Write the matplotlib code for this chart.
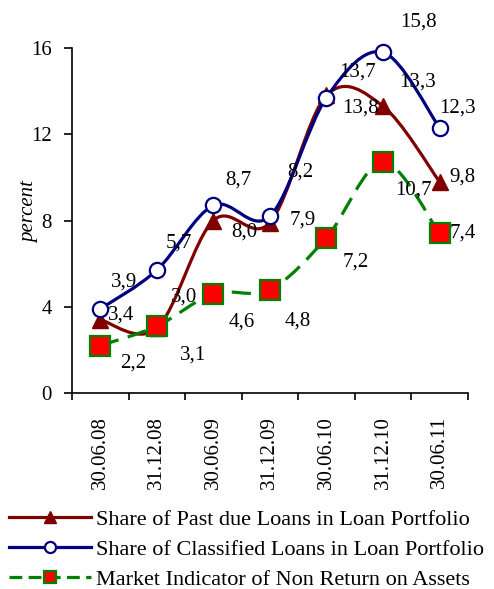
import matplotlib
matplotlib.use("Agg")
import matplotlib.pyplot as plt
from matplotlib.path import Path
from matplotlib.patches import PathPatch
import numpy as np

plt.rcParams['font.family'] = ['Liberation Serif', 'DejaVu Serif']

# Data
dates = ['30.06.08', '31.12.08', '30.06.09', '31.12.09', '30.06.10', '31.12.10', '30.06.11']
past_due = [3.4, 3.0, 8.0, 7.9, 13.8, 13.3, 9.8]
classified = [3.9, 5.7, 8.7, 8.2, 13.7, 15.8, 12.3]
market = [2.2, 3.1, 4.6, 4.8, 7.2, 10.7, 7.4]

labels_past = ['3,4', '3,0', '8,0', '7,9', '13,8', '13,3', '9,8']
labels_class = ['3,9', '5,7', '8,7', '8,2', '13,7', '15,8', '12,3']
labels_market = ['2,2', '3,1', '4,6', '4,8', '7,2', '10,7', '7,4']

# label offsets in pixels (dx, dy)
off_past = [(21, 5), (27, 31), (31, -12), (33, 3), (34, -13), (35, 24), (23, 5)]
off_class = [(24, 27), (22, 27), (25, 25), (30, 44), (31, 26), (35, 30), (18, 20)]
off_market = [(33, -17), (36, -29), (28, -28), (28, -32), (29, -24), (30, -28), (23, 0)]

FS = 15


def smooth_path(x, y):
    # bezier curve through the points, like excel's smoothed line
    pts = np.column_stack([x, y]).astype(float)
    n = len(pts)
    verts = [pts[0]]
    codes = [Path.MOVETO]
    for i in range(n - 1):
        p0 = pts[i - 1] if i > 0 else pts[i]
        p1 = pts[i]
        p2 = pts[i + 1]
        p3 = pts[i + 2] if i + 2 < n else pts[i + 1]
        c1 = p1 + (p2 - p0) / 6.0
        c2 = p2 - (p3 - p1) / 6.0
        verts += [c1, c2, p2]
        codes += [Path.CURVE4] * 3
    return Path(verts, codes)


fig = plt.figure(figsize=(4.94, 5.89), dpi=100)
ax = fig.add_axes([0.1457, 0.3327, 0.8013, 0.5858])

x = np.arange(len(dates))

series = [
    (past_due, '#800000', '-', dict(marker='^', ms=12, mfc='#800000', mec='#800000'),
     'Share of Past due Loans in Loan Portfolio'),
    (classified, '#000080', '-', dict(marker='o', ms=11, mfc='white', mec='#000080', mew=1.6),
     'Share of Classified Loans in Loan Portfolio'),
    (market, '#008000', (0, (6, 3)), dict(marker='s', ms=14, mfc='#ff0000', mec='#008000', mew=1.6),
     'Market Indicator of Non Return on Assets'),
]

handles = []
for vals, col, ls, mk, name in series:
    patch = PathPatch(smooth_path(x, vals), facecolor='none', edgecolor=col,
                      lw=2.3, linestyle=ls, clip_on=False, zorder=2)
    ax.add_patch(patch)
    ax.plot(x, vals, linestyle='none', clip_on=False, zorder=3, **mk)
    h, = ax.plot([], [], color=col, lw=2.3, linestyle=ls if ls == '-' else (0, (4, 2)),
                 **{k: v for k, v in mk.items() if k != 'ms'}, ms=8)
    handles.append(h)

for vals, labs, offs in [(past_due, labels_past, off_past),
                         (classified, labels_class, off_class),
                         (market, labels_market, off_market)]:
    for i, (v, lab, off) in enumerate(zip(vals, labs, offs)):
        ax.annotate(lab, (i, v), xytext=off, textcoords='offset pixels',
                    ha='center', va='center', fontsize=FS, zorder=5)

ax.set_xlim(-0.5, len(dates) - 0.5)
ax.set_ylim(0, 16)
ax.set_yticks([0, 4, 8, 12, 16])
ax.set_xticks(np.arange(-0.5, len(dates), 1.0))
ax.set_xticklabels([])
ax.set_xticks(x, minor=True)
ax.set_xticklabels(dates, minor=True, rotation=90, fontsize=FS)
ax.tick_params(axis='x', which='minor', length=0, pad=16.5)
ax.tick_params(axis='x', which='major', length=5, direction='out', width=1.2)
ax.tick_params(axis='y', length=5.5, direction='out', width=1.2, labelsize=FS, pad=9)
for s in ['top', 'right']:
    ax.spines[s].set_visible(False)
for s in ['left', 'bottom']:
    ax.spines[s].set_linewidth(1.2)
ax.set_ylabel('percent', fontstyle='italic', fontsize=FS, va='center')
ax.yaxis.set_label_coords(-0.107, 0.525)

fig.legend(handles, [s[4] for s in series], loc='upper left',
           bbox_to_anchor=(0.0, 0.150), frameon=False, fontsize=16,
           handlelength=3.7, handletextpad=0.2, labelspacing=0.42,
           borderaxespad=0)

fig.savefig('out.png', dpi=100)
